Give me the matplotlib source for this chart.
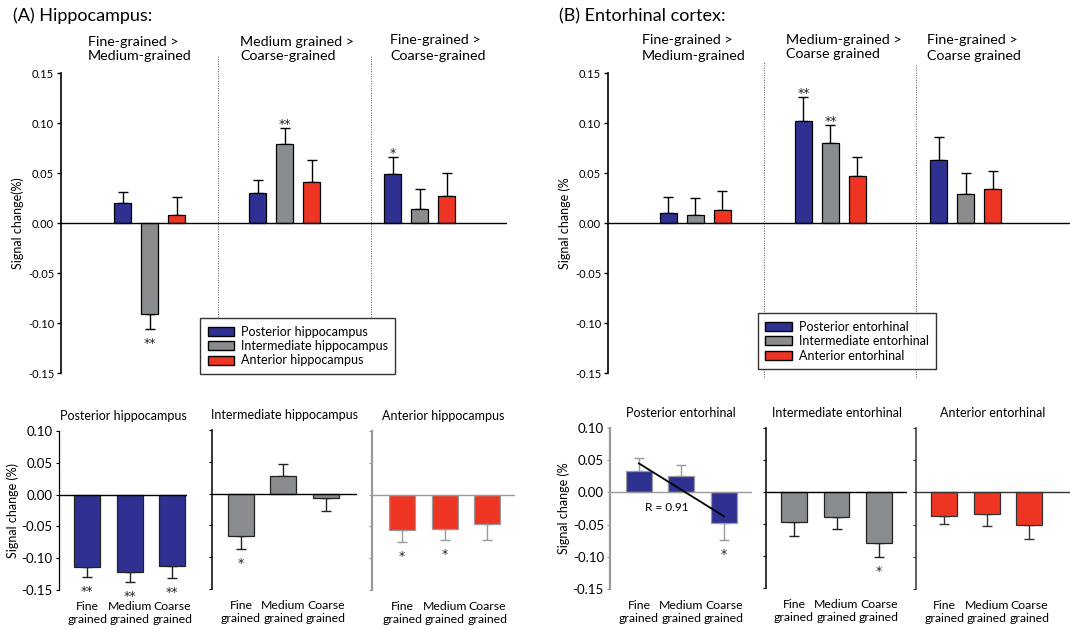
import matplotlib.pyplot as plt
import numpy as np

plt.rcParams['font.family'] = ['Lato', 'DejaVu Sans']

W, H = 1070, 629

blue = '#2e3192'
grey = '#8a8d8f'
red = '#ee3524'

# top row: contrasts x region (posterior, intermediate, anterior)
contrasts_hc = ['Fine-grained >\nMedium-grained', 'Medium grained >\nCoarse-grained',
                'Fine-grained >\nCoarse-grained']
contrasts_ec = ['Fine-grained >\nMedium-grained', 'Medium-grained >\nCoarse grained',
                'Fine-grained >\nCoarse grained']
regions_hc = ['Posterior hippocampus', 'Intermediate hippocampus', 'Anterior hippocampus']
regions_ec = ['Posterior entorhinal', 'Intermediate entorhinal', 'Anterior entorhinal']

hc_mean = [[0.020, -0.091, 0.008], [0.030, 0.079, 0.041], [0.049, 0.014, 0.027]]
hc_err = [[0.011, 0.015, 0.018], [0.013, 0.016, 0.022], [0.017, 0.020, 0.023]]
hc_sig = [['', '**', ''], ['', '**', ''], ['*', '', '']]

ec_mean = [[0.010, 0.008, 0.013], [0.102, 0.080, 0.047], [0.063, 0.029, 0.034]]
ec_err = [[0.016, 0.017, 0.019], [0.024, 0.018, 0.019], [0.023, 0.021, 0.018]]
ec_sig = [['', '', ''], ['**', '**', ''], ['', '', '']]

# bottom row: grain level per region
grains = ['Fine\ngrained', 'Medium\ngrained', 'Coarse\ngrained']
hc_grain_mean = [[-0.114, -0.122, -0.112], [-0.066, 0.028, -0.007], [-0.056, -0.054, -0.046]]
hc_grain_err = [[0.015, 0.015, 0.019], [0.021, 0.019, 0.020], [0.018, 0.018, 0.026]]
hc_grain_sig = [['**', '**', '**'], ['*', '', ''], ['*', '*', '']]

ec_grain_mean = [[0.034, 0.026, -0.048], [-0.047, -0.039, -0.080], [-0.037, -0.034, -0.050]]
ec_grain_err = [[0.020, 0.016, 0.026], [0.021, 0.019, 0.021], [0.012, 0.018, 0.023]]
ec_grain_sig = [['', '', '*'], ['', '', '*'], ['', '', '']]

colors = [blue, grey, red]


def px_axes(left, top, right, bottom):
    return fig.add_axes([left / W, 1 - bottom / H, (right - left) / W, (bottom - top) / H])


def star(ax, x, y, s, up):
    # asterisks sit high in the glyph box, so offsets are from the baseline
    if not s:
        return
    dy = 0 if up else -13
    ax.annotate(s, (x, y), xytext=(0, dy), textcoords='offset points', ha='center',
                va='baseline', fontsize=9, family='DejaVu Sans', color='#222222')


def top_panel(ax, means, errs, sigs, xlim, seps, sep_span, ylabel):
    for g in range(3):
        for j in range(3):
            x = g * 5 + j
            m = means[g][j]
            e = errs[g][j]
            ax.bar(x, m, width=0.61, color=colors[j], edgecolor='black', linewidth=0.9, zorder=3)
            yerr = [[0], [e]] if m >= 0 else [[e], [0]]
            ax.errorbar(x, m, yerr=yerr, fmt='none', ecolor='black', elinewidth=1,
                        capsize=3.3, capthick=1, zorder=2)
            star(ax, x, m + e if m >= 0 else m - e, sigs[g][j], m >= 0)
    ax.axhline(0, color='black', lw=1, zorder=4)
    for s, (y0, y1) in zip(seps, sep_span):
        ax.axvline(s, ymin=y0, ymax=y1, color='#555555', lw=0.7, ls=(0, (1, 1.5)), clip_on=False)
    ax.set_xlim(*xlim)
    ax.set_ylim(-0.15, 0.15)
    ax.set_yticks(np.arange(-0.15, 0.151, 0.05))
    ax.set_yticklabels(['%.2f' % v for v in np.arange(-0.15, 0.151, 0.05)])
    ax.set_xticks([])
    for sp in ['top', 'right', 'bottom']:
        ax.spines[sp].set_visible(False)
    ax.spines['left'].set_linewidth(1.2)
    ax.tick_params(axis='y', direction='out', length=3, width=1, labelsize=8, pad=2)
    ax.set_ylabel(ylabel, fontsize=9, labelpad=3)
    ax.patch.set_alpha(0)


def bottom_panel(ax, means, errs, sigs, xlim, color, spine_col, spine_w, labels, ylabel=None):
    edge = spine_col if spine_col != 'black' else '#222222'
    for j in range(3):
        m = means[j]
        e = errs[j]
        ax.bar(j, m, width=0.61, color=color, edgecolor=edge, linewidth=0.9, zorder=3)
        yerr = [[0], [e]] if m >= 0 else [[e], [0]]
        ax.errorbar(j, m, yerr=yerr, fmt='none', ecolor=edge, elinewidth=1,
                    capsize=3.5, capthick=1, zorder=2)
        star(ax, j, m + e if m >= 0 else m - e, sigs[j], m >= 0)
    ax.axhline(0, color=spine_col, lw=1, zorder=4)
    ax.set_xlim(*xlim)
    ax.set_ylim(-0.15, 0.10)
    ax.set_yticks(np.arange(-0.15, 0.101, 0.05))
    for sp in ['top', 'right', 'bottom']:
        ax.spines[sp].set_visible(False)
    ax.spines['left'].set_color(spine_col)
    ax.spines['left'].set_linewidth(spine_w)
    ax.tick_params(axis='y', direction='out', length=2.5, width=0.8, color=spine_col, labelsize=9.5, pad=2)
    ax.set_xticks(range(3))
    ax.set_xticklabels(labels, fontsize=8.8, linespacing=1.25)
    ax.tick_params(axis='x', length=0, pad=8)
    if ylabel:
        ax.set_yticklabels(['%.2f' % v for v in np.arange(-0.15, 0.101, 0.05)])
        ax.set_ylabel(ylabel, fontsize=9, labelpad=2)
    else:
        ax.set_yticklabels([])
    ax.patch.set_alpha(0)


fig = plt.figure(figsize=(W / 100, H / 100), dpi=100)

# (A) hippocampus, contrasts
axA = px_axes(61, 73, 507, 373)
top_panel(axA, hc_mean, hc_err, hc_sig, (-2.28, 14.24), [3.53, 9.2],
          [(0.187, 1.057), (0.187, 1.06)], 'Signal change(%)')
leg = axA.legend([plt.Rectangle((0, 0), 1, 1, fc=c, ec='black', lw=1) for c in colors], regions_hc,
                 loc='upper left', bbox_to_anchor=(200 / W, 1 - 318 / H), bbox_transform=fig.transFigure,
                 fontsize=9, frameon=True, fancybox=False, edgecolor='black', handlelength=2.1,
                 handleheight=0.75, handletextpad=0.55, labelspacing=0.2, borderpad=0.6, borderaxespad=0)
leg.get_frame().set_linewidth(1)

# (B) entorhinal cortex, contrasts
axB = px_axes(608, 73, 1070, 373)
top_panel(axB, ec_mean, ec_err, ec_sig, (-2.24, 14.87), [3.54, 9.17],
          [(-0.013, 1.037), (-0.013, 1.027)], 'Signal change (%')
leg = axB.legend([plt.Rectangle((0, 0), 1, 1, fc=c, ec='black', lw=1) for c in colors], regions_ec,
                 loc='upper left', bbox_to_anchor=(758 / W, 1 - 313 / H), bbox_transform=fig.transFigure,
                 fontsize=9, frameon=True, fancybox=False, edgecolor='black', handlelength=2.1,
                 handleheight=0.75, handletextpad=0.55, labelspacing=0.2, borderpad=0.6, borderaxespad=0)
leg.get_frame().set_linewidth(1)

fig.text(13 / W, 1 - 16 / H, '(A) Hippocampus:', fontsize=13, va='center', ha='left')
fig.text(559 / W, 1 - 16 / H, '(B) Entorhinal cortex:', fontsize=13, va='center', ha='left')
for txt, x, y in zip(contrasts_hc, [88, 240, 390], [49, 49, 48]):
    fig.text(x / W, 1 - y / H, txt, fontsize=10.3, va='center', ha='left', linespacing=1.3)
for txt, x, y in zip(contrasts_ec, [642, 786, 927], [48, 47, 48]):
    fig.text(x / W, 1 - y / H, txt, fontsize=10.3, va='center', ha='left', linespacing=1.3)

# bottom row, hippocampus
boxes_hc = [(59, 187, 431, 590), (212, 357, 430, 589), (372, 515, 431, 590)]
xlims_hc = [(-0.66, 2.35), (-0.68, 2.73), (-0.71, 2.65)]
spines_hc = [('black', 0.9), ('black', 1.1), ('#9a9a9a', 1.6)]
for i in range(3):
    l, r, t, b = boxes_hc[i]
    ax = px_axes(l, t, r, b)
    bottom_panel(ax, hc_grain_mean[i], hc_grain_err[i], hc_grain_sig[i], xlims_hc[i], colors[i],
                 spines_hc[i][0], spines_hc[i][1], grains,
                 'Signal change (%)' if i == 0 else None)
    ax.set_title(regions_hc[i], fontsize=9, pad=8)

# bottom row, entorhinal
boxes_ec = [(610, 752, 428, 589), (766, 907, 428, 588), (916, 1070, 428, 589)]
xlims_ec = [(-0.68, 2.66), (-0.66, 2.66), (-0.66, 2.96)]
spines_ec = [('#9a9a9a', 1.6), ('black', 1.1), ('#333333', 1.1)]
for i in range(3):
    l, r, t, b = boxes_ec[i]
    ax = px_axes(l, t, r, b)
    bottom_panel(ax, ec_grain_mean[i], ec_grain_err[i], ec_grain_sig[i], xlims_ec[i], colors[i],
                 spines_ec[i][0], spines_ec[i][1], grains,
                 'Signal change (%' if i == 0 else None)
    ax.set_title(regions_ec[i], fontsize=9, pad=8)
    if i == 0:
        # linear trend across grain levels
        xs = np.arange(3)
        k, c = np.polyfit(xs, ec_grain_mean[i], 1)
        ax.plot([0, 2], [c, c + 2 * k], color='black', lw=1.3, zorder=5)
        ax.text(0.66, -0.023, 'R = 0.91', fontsize=8.5, ha='center', va='center', zorder=6)

fig.savefig('out.png', dpi=100)
